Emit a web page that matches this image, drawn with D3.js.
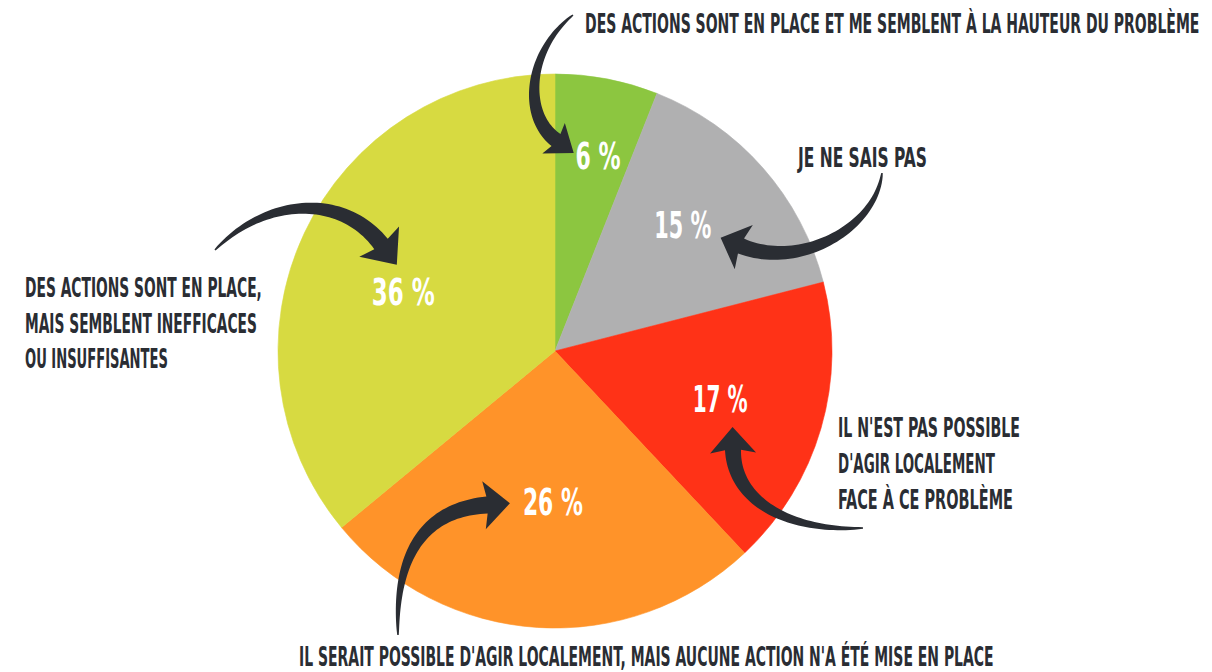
<!DOCTYPE html>
<html><head><meta charset="utf-8">
<script src="https://cdn.jsdelivr.net/npm/d3@7"></script>
<style>
html,body{margin:0;padding:0;background:#fff;}
svg{display:block;}
</style></head>
<body>
<svg id="chart" width="1212" height="672"></svg>
<script>
// ---- data ----
const categories = [
  "Des actions sont en place et me semblent à la hauteur du problème",
  "Je ne sais pas",
  "Il n'est pas possible d'agir localement face à ce problème",
  "Il serait possible d'agir localement, mais aucune action n'a été mise en place",
  "Des actions sont en place, mais semblent inefficaces ou insuffisantes"
];
const values = [6, 15, 17, 26, 36];
const valueLabels = ["6 %", "15 %", "17 %", "26 %", "36 %"];

// ---- styles / layout (not data) ----
const palette = ["#8cc640", "#b0b0b1", "#ff3217", "#ff9329", "#d7da41"];
const inkColor = "#2a2d33";
const fontFam = "'Liberation Sans Narrow','DejaVu Sans Condensed','Roboto Condensed',sans-serif";
const cx = 555, cy = 351, R = 277;
const labelRadius = [200, 180, 172, 151, 163];
const labelAngleNudge = [1.6, -3.4, 0, -2.8, -3.7];
const labelWidth = [45, 57, 55, 60, 63];

const svg = d3.select("#chart");
const color = d3.scaleOrdinal(categories, palette);

// fit a text to a target width and cap height, left-anchored at (x, baseline)
function fitText(parent, str, x, baseline, targetW, capH, fill) {
  const t = parent.append("text")
    .attr("font-family", fontFam)
    .attr("font-weight", 700)
    .attr("font-size", 20)
    .attr("fill", fill)
    .text(str);
  const len = t.node().getComputedTextLength() || 1;
  const fs = 20 * targetW / len;
  const fsH = capH / 0.73;
  const sy = fsH / fs;
  t.attr("font-size", fs)
   .attr("transform", `translate(${x},${baseline}) scale(1,${sy})`);
  return t;
}

const pie = d3.pie().sort(null).value(d => d.v).startAngle(0).endAngle(2 * Math.PI);
const arcs = pie(categories.map((c, i) => ({c, v: values[i], i})));
const arc = d3.arc().innerRadius(0).outerRadius(R);

const g = svg.append("g").attr("transform", `translate(${cx},${cy})`);
g.selectAll("path.slice").data(arcs).join("path")
  .attr("class", "slice")
  .attr("d", arc)
  .attr("fill", d => color(d.data.c))
  .attr("stroke", d => color(d.data.c))
  .attr("stroke-width", 0.6);

// percent labels
arcs.forEach(d => {
  const i = d.data.i;
  const a = (d.startAngle + d.endAngle) / 2 + labelAngleNudge[i] * Math.PI / 180;
  const r = labelRadius[i];
  const px = r * Math.sin(a), py = -r * Math.cos(a);
  fitText(g, valueLabels[i], px - labelWidth[i] / 2, py + 13.5, labelWidth[i], 27, "#fff");
});

// ---- annotation text ----
const annos = [
  {lines: ["DES ACTIONS SONT EN PLACE ET ME SEMBLENT À LA HAUTEUR DU PROBLÈME"], x: 585, y: [33], w: [615], ch: 20},
  {lines: ["JE NE SAIS PAS"], x: 798, y: [167], w: [129], ch: 19},
  {lines: ["IL N'EST PAS POSSIBLE", "D'AGIR LOCALEMENT", "FACE À CE PROBLÈME"], x: 838, y: [437, 473, 509], w: [182, 157, 175], ch: 20},
  {lines: ["IL SERAIT POSSIBLE D'AGIR LOCALEMENT, MAIS AUCUNE ACTION N'A ÉTÉ MISE EN PLACE"], x: 299, y: [666], w: [695], ch: 19},
  {lines: ["DES ACTIONS SONT EN PLACE,", "MAIS SEMBLENT INEFFICACES", "OU INSUFFISANTES"], x: 25, y: [297, 333, 368], w: [237, 232, 143], ch: 19}
];
annos.forEach(a => {
  a.lines.forEach((ln, k) => fitText(svg, ln, a.x, a.y[k], a.w[k], a.ch, inkColor));
});

// ---- tapered curved arrows ----
function bez(p0, p1, p2, p3, t) {
  const m = 1 - t;
  return [
    m*m*m*p0[0] + 3*m*m*t*p1[0] + 3*m*t*t*p2[0] + t*t*t*p3[0],
    m*m*m*p0[1] + 3*m*m*t*p1[1] + 3*m*t*t*p2[1] + t*t*t*p3[1]
  ];
}
function bezD(p0, p1, p2, p3, t) {
  const m = 1 - t;
  return [
    3*m*m*(p1[0]-p0[0]) + 6*m*t*(p2[0]-p1[0]) + 3*t*t*(p3[0]-p2[0]),
    3*m*m*(p1[1]-p0[1]) + 6*m*t*(p2[1]-p1[1]) + 3*t*t*(p3[1]-p2[1])
  ];
}
function arrowPath(a) {
  const {p0, p1, p2, p3, w0, w1, hh, hl} = a;
  const N = 50, L = [], Rr = [];
  for (let i = 0; i <= N; i++) {
    const t = i / N;
    const p = bez(p0, p1, p2, p3, t);
    const d = bezD(p0, p1, p2, p3, t);
    const len = Math.hypot(d[0], d[1]) || 1;
    const n = [-d[1] / len, d[0] / len];
    const w = w0 + (w1 - w0) * Math.pow(t, 0.75);
    L.push([p[0] + n[0] * w / 2, p[1] + n[1] * w / 2]);
    Rr.push([p[0] - n[0] * w / 2, p[1] - n[1] * w / 2]);
  }
  const d = bezD(p0, p1, p2, p3, 1);
  const len = Math.hypot(d[0], d[1]);
  const u = [d[0] / len, d[1] / len], n = [-u[1], u[0]];
  const b1 = [p3[0] + n[0] * hh - u[0] * 3, p3[1] + n[1] * hh - u[1] * 3];
  const b2 = [p3[0] - n[0] * hh - u[0] * 3, p3[1] - n[1] * hh - u[1] * 3];
  const tip = [p3[0] + u[0] * hl, p3[1] + u[1] * hl];
  const pts = L.concat([b1, tip, b2]).concat(Rr.reverse());
  return d3.line()(pts) + "Z";
}
const arrows = [
  {p0: [573, 15], p1: [528, 50], p2: [522, 115], p3: [556, 140], w0: 1.5, w1: 15, hh: 19, hl: 22},
  {p0: [882, 173], p1: [876, 228], p2: [800, 270], p3: [741, 246], w0: 1.5, w1: 16, hh: 24, hl: 22},
  {p0: [863, 528], p1: [790, 532], p2: [734, 502], p3: [733, 450], w0: 1.5, w1: 16, hh: 23, hl: 23},
  {p0: [398, 635], p1: [395, 560], p2: [420, 510], p3: [487, 505], w0: 1.5, w1: 17, hh: 24, hl: 23},
  {p0: [215, 250], p1: [265, 198], p2: [342, 193], p3: [381, 244], w0: 1.5, w1: 17, hh: 25, hl: 26}
];
svg.selectAll("path.arrow").data(arrows).join("path")
  .attr("class", "arrow")
  .attr("d", arrowPath)
  .attr("fill", inkColor);
</script>
</body></html>
